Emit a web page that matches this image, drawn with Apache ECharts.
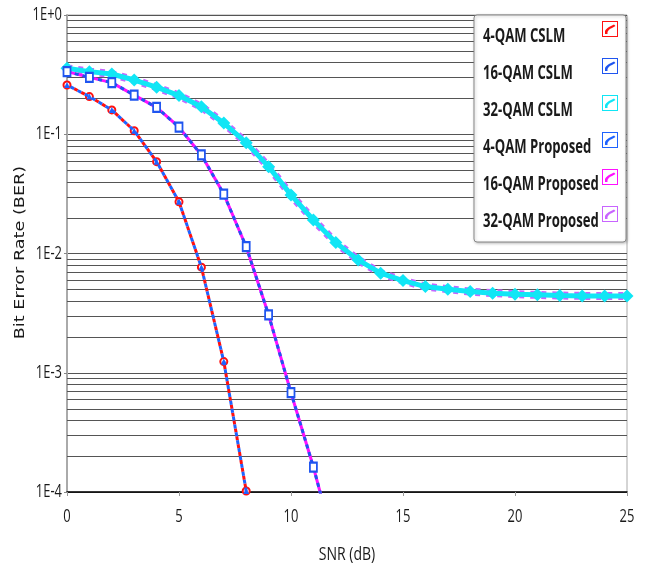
<!DOCTYPE html>
<html>
<head>
<meta charset="utf-8">
<script src="https://cdn.jsdelivr.net/npm/echarts@6/dist/echarts.min.js"></script>
<style>
  html, body { margin: 0; padding: 0; background: #fff; }
  #chart { width: 648px; height: 567px; }
</style>
</head>
<body>
<div id="chart"></div>
<script>
// BER vs SNR curves (log scale)
const snr4 = [0, 1, 2, 3, 4, 5, 6, 7, 8];
const ber4Cslm = [0.259, 0.207, 0.160, 0.107, 0.0589, 0.0271, 0.00768, 0.00124, 0.000102];
const ber4Proposed = [0.259, 0.207, 0.160, 0.107, 0.0589, 0.0271, 0.00768, 0.00124, 0.000102];

const snr16 = [0, 1, 2, 3, 4, 5, 6, 7, 8, 9, 10, 11, 12];
const ber16Cslm = [0.335, 0.300, 0.271, 0.213, 0.168, 0.1145, 0.067, 0.0315, 0.0114, 0.00306, 0.00068, 0.000162, 0.000032];
const ber16Proposed = [0.335, 0.300, 0.271, 0.213, 0.168, 0.1145, 0.067, 0.0315, 0.0114, 0.00306, 0.00068, 0.000162, 0.000032];

const snr32 = [0, 1, 2, 3, 4, 5, 6, 7, 8, 9, 10, 11, 12, 13, 14, 15, 16, 17, 18, 19, 20, 21, 22, 23, 24, 25];
const ber32Cslm = [0.357, 0.335, 0.320, 0.285, 0.248, 0.211, 0.170, 0.124, 0.085, 0.0535, 0.031, 0.0191, 0.01234, 0.00883, 0.00684, 0.00593, 0.00528, 0.00502, 0.0048, 0.00465, 0.00456, 0.0045, 0.00444, 0.00441, 0.00441, 0.00441];
const ber32Proposed = [0.357, 0.335, 0.320, 0.285, 0.248, 0.211, 0.170, 0.124, 0.085, 0.0535, 0.031, 0.0191, 0.01234, 0.00883, 0.00684, 0.00593, 0.00528, 0.00502, 0.0048, 0.00465, 0.00456, 0.0045, 0.00444, 0.00441, 0.00441, 0.00441];

const seriesNames = ['4-QAM CSLM', '16-QAM CSLM', '32-QAM CSLM', '4-QAM Proposed', '16-QAM Proposed', '32-QAM Proposed'];
const xTicks = [0, 5, 10, 15, 20, 25];
const xTickLabels = ['0', '5', '10', '15', '20', '25'];
const yTicks = [1, 1e-1, 1e-2, 1e-3, 1e-4];
const yTickLabels = ['1E+0', '1E-1', '1E-2', '1E-3', '1E-4'];
const decades = [1e-4, 1e-3, 1e-2, 1e-1];
const xTitle = 'SNR (dB)';
const yTitle = 'Bit Error Rate (BER)';

// condensed look for labels: regular face squeezed horizontally
const labelFont = "18px 'Open Sans', 'Noto Sans', sans-serif";
const legendFont = "bold 19px 'Open Sans', 'Noto Sans', sans-serif";
const yTitleFont = "14px 'DejaVu Sans', Verdana, sans-serif";
const labelSqueeze = 0.72;
const legendSqueeze = 0.69;

function pairs(xs, ys) { return xs.map((x, i) => [x, ys[i]]); }

// minor log gridlines at 2..9 of each decade
const minorValues = [];
decades.forEach(d => { for (let m = 2; m <= 9; m++) minorValues.push(+(d * m).toPrecision(3)); });

// legend glyph: thin frame plus a curved stroke in the upper half of a 16x32 slot,
// so the frame sits just above the text line
const legendIcon = 'path://M0,0H16V16H0Z M1,1V15H15V1Z M3,13V10C4,8 6,6 9,5L12,3.5L13.5,5L10,7C7.5,8 6,9.5 5.5,11V13Z M0,31.9L0.1,32L0,32Z';

const legendLeft = 474, legendTop = 15;
const legendPad = [6, 8, 4, 9];
const legendRowH = 32, legendGap = 5;

const chart = echarts.init(document.getElementById('chart'), null, { renderer: 'canvas' });

chart.setOption({
  animation: false,
  backgroundColor: '#fff',
  grid: {
    left: 67, right: 21, top: 15, bottom: 75,
    containLabel: false, outerBoundsMode: 'none',
    show: true, borderColor: '#aaa', borderWidth: 1
  },
  legend: {
    data: seriesNames,
    orient: 'vertical',
    left: legendLeft, top: legendTop,
    align: 'right',
    icon: legendIcon,
    itemWidth: 16, itemHeight: 32,
    itemGap: legendGap,
    padding: legendPad,
    backgroundColor: '#fff',
    borderColor: '#888', borderWidth: 1, borderRadius: 3,
    shadowColor: 'rgba(0,0,0,0.25)', shadowBlur: 3, shadowOffsetX: 1, shadowOffsetY: 1,
    // names are drawn as squeezed graphic text; the legend keeps a fixed slot for them
    formatter: () => '{t| }',
    textStyle: {
      fontSize: 12, lineHeight: 20,
      rich: { t: { width: 114, lineHeight: 20, fontSize: 12 } }
    },
    selectedMode: false
  },
  xAxis: {
    type: 'value', min: 0, max: 25, interval: 5,
    axisLine: { onZero: false, lineStyle: { color: '#000', width: 1.5 } },
    axisTick: { show: true, length: 4, lineStyle: { color: '#999' } },
    axisLabel: { show: false },
    splitLine: { show: false }
  },
  yAxis: {
    type: 'log', logBase: 10, min: 1e-4, max: 1,
    axisLine: { show: true, lineStyle: { color: '#aaa', width: 2 } },
    axisTick: { show: true, length: 3, lineStyle: { color: '#888' } },
    axisLabel: { show: false },
    minorTick: { show: false },
    splitLine: { show: true, lineStyle: { color: '#555', width: 1 } }
  },
  series: [
    {
      name: '4-QAM CSLM', type: 'line', z: 12,
      data: pairs(snr4, ber4Cslm),
      color: '#ff1010',
      lineStyle: { width: 3, type: [4, 4] },
      symbol: 'emptyCircle', symbolSize: 7,
      itemStyle: { borderWidth: 1.5 }
    },
    {
      name: '16-QAM CSLM', type: 'line', z: 12,
      data: pairs(snr16, ber16Cslm),
      color: '#1f55f0',
      lineStyle: { width: 3, type: [4, 4] },
      symbol: 'emptyRect', symbolSize: [7, 9],
      itemStyle: { borderWidth: 1.5 }
    },
    {
      name: '32-QAM CSLM', type: 'line', z: 11,
      data: pairs(snr32, ber32Cslm),
      color: '#10e6f5',
      lineStyle: { width: 5 },
      symbol: 'diamond', symbolSize: 13
    },
    {
      name: '4-QAM Proposed', type: 'line', z: 13,
      data: pairs(snr4, ber4Proposed),
      color: '#1e63ff',
      lineStyle: { width: 3, type: [4, 4], dashOffset: 4 },
      symbol: 'triangle', symbolSize: 6
    },
    {
      name: '16-QAM Proposed', type: 'line', z: 11,
      data: pairs(snr16, ber16Proposed),
      color: '#ff10ff',
      lineStyle: { width: 3 },
      symbol: 'none'
    },
    {
      name: '32-QAM Proposed', type: 'line', z: 10,
      data: pairs(snr32, ber32Proposed),
      color: '#c864ff',
      lineStyle: { width: 8, type: [5, 6] },
      symbol: 'circle', symbolSize: 4
    },
    {
      // minor gridlines of the log axis, placed through the axis scales
      type: 'custom', z: 1, silent: true,
      data: minorValues.map(v => [0, v]),
      renderItem: (params, api) => {
        const v = api.value(1);
        const a = api.coord([0, v]);
        const b = api.coord([25, v]);
        const y = Math.round(a[1]) + 0.5;
        return {
          type: 'line',
          shape: { x1: a[0], y1: y, x2: b[0], y2: y },
          style: { stroke: '#555', lineWidth: 1 }
        };
      }
    }
  ]
});

// tick labels, axis titles and legend names as horizontally scaled text
function scaledText(x, y, text, font, sx, align, vAlign, rotation) {
  return {
    type: 'text', x: x, y: y, scaleX: sx, rotation: rotation || 0, silent: true, z: 50,
    style: { x: 0, y: 0, text: text, font: font, fill: '#1a1a1a', align: align, verticalAlign: vAlign }
  };
}

const graphics = [];
const xAxisY = chart.convertToPixel({ yAxisIndex: 0 }, 1e-4);
const yAxisX = chart.convertToPixel({ xAxisIndex: 0 }, 0);
xTicks.forEach((v, i) => {
  const px = chart.convertToPixel({ xAxisIndex: 0 }, v);
  graphics.push(scaledText(px, xAxisY + 25, xTickLabels[i], labelFont, labelSqueeze, 'center', 'middle'));
});
yTicks.forEach((v, i) => {
  const py = chart.convertToPixel({ yAxisIndex: 0 }, v);
  graphics.push(scaledText(yAxisX - 5, py, yTickLabels[i], labelFont, labelSqueeze, 'right', 'middle'));
});
const xMid = chart.convertToPixel({ xAxisIndex: 0 }, 12.5);
graphics.push(scaledText(xMid, xAxisY + 63, xTitle, labelFont, 0.78, 'center', 'middle'));
const yMid = (chart.convertToPixel({ yAxisIndex: 0 }, 1) + xAxisY) / 2;
graphics.push(scaledText(yAxisX - 47, yMid - 1, yTitle, yTitleFont, 1.26, 'center', 'middle', Math.PI / 2));
seriesNames.forEach((name, i) => {
  const cy = legendTop + legendPad[0] + i * (legendRowH + legendGap) + legendRowH / 2;
  graphics.push(scaledText(legendLeft + legendPad[3], cy, name, legendFont, legendSqueeze, 'left', 'middle'));
});
chart.setOption({ graphic: graphics });
</script>
</body>
</html>
